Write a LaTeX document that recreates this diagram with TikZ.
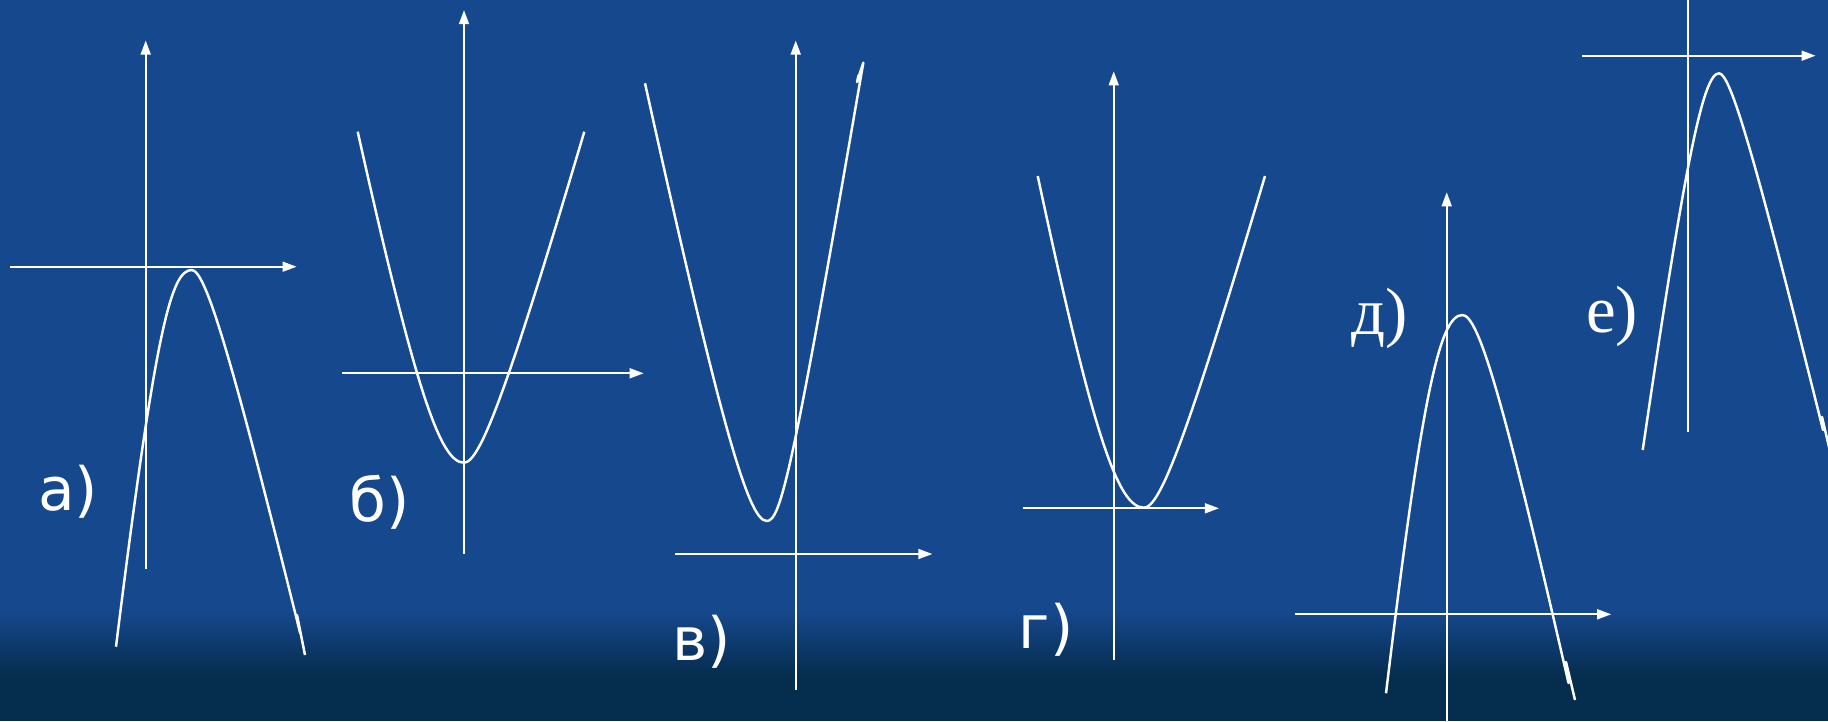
\documentclass[tikz,border=0pt]{standalone}
\usepackage{fontspec}
\newfontfamily\sanslab{DejaVu Sans}
\newfontfamily\seriflab{Liberation Serif}
\usetikzlibrary{arrows.meta,calc}
\definecolor{bgblue}{RGB}{22,72,142}
\definecolor{bgdark}{RGB}{5,45,78}
\begin{document}
\begin{tikzpicture}[x=0.01cm,y=-0.01cm,
  axis/.style={white, line width=0.6pt, -{Triangle[length=4pt,width=2.8pt]}},
  axisplain/.style={white, line width=0.6pt},
  curve/.style={white, line width=0.7pt, line join=round},
  lab/.style={white, font=\sanslab\fontsize{17}{20}\selectfont, inner sep=0pt},
  labs/.style={white, font=\seriflab\fontsize{19}{20}\selectfont, inner sep=0pt}]
\def\tv{0.74}\def\te{0.78}
\useasboundingbox (0,0) rectangle (1828,721);
\clip (0,0) rectangle (1828,721);
\fill[bgblue] (0,0) rectangle (1828,721);
\shade[top color=bgblue, bottom color=bgdark] (0,610) rectangle (1828,676);
\fill[bgdark] (0,675) rectangle (1828,721);

% a)
\draw[axis] (145.7,569) -- (145.7,40.5);
\draw[axis] (9.9,266.7) -- (296.6,266.7);
\coordinate (aV) at (191.7,270);
\coordinate (aQl) at (162.7,270);
\coordinate (aEl) at (116,646.7);
\coordinate (aQr) at (210,270);
\coordinate (aEr) at (300.2,633.3);
\draw[curve] (aEl) .. controls ($(aEl)!0.85!(aQl)$) and ($(aV)!0.7!(aQl)$) .. (aV)
  .. controls ($(aV)!\tv!(aQr)$) and ($(aEr)!\te!(aQr)$) .. (aEr)
  -- (297,615) -- (305,655);
\node[lab] (la) at (68,492) {а)};

% b)
\draw[axis] (464,554) -- (464,10.1);
\draw[axis] (342.4,373.3) -- (643.7,373.3);
\coordinate (bV) at (464,462.7);
\coordinate (bQl) at (431.7,462.7);
\coordinate (bEl) at (357.7,131.7);
\coordinate (bQr) at (485.7,462.7);
\coordinate (bEr) at (584.3,131.7);
\draw[curve] (bEl) .. controls ($(bEl)!\te!(bQl)$) and ($(bV)!\tv!(bQl)$) .. (bV)
  .. controls ($(bV)!\tv!(bQr)$) and ($(bEr)!\te!(bQr)$) .. (bEr);
\node[lab] (lb) at (380,502) {б)};

% v)
\draw[axis] (795.7,689.7) -- (795.7,40.5);
\draw[axis] (675.4,554) -- (932.4,554);
\coordinate (vV) at (766.7,521);
\coordinate (vQl) at (742,521);
\coordinate (vEl) at (645,83.3);
\coordinate (vQr) at (784.2,521);
\coordinate (vEr) at (863.3,62.7);
\draw[curve] (vEl) .. controls ($(vEl)!\te!(vQl)$) and ($(vV)!\tv!(vQl)$) .. (vV)
  .. controls ($(vV)!0.8!(vQr)$) and ($(vEr)!0.9!(vQr)$) .. (vEr)
  -- (857,82) -- (858.6,75);
\node[lab] (lv) at (702,642) {в)};

% g)
\draw[axis] (1113.7,659.8) -- (1113.7,71.3);
\draw[axis] (1022.5,508.3) -- (1219,508.3);
\coordinate (gV) at (1144,507.7);
\coordinate (gQl) at (1108.7,507.7);
\coordinate (gEl) at (1037.7,176);
\coordinate (gQr) at (1166,507.7);
\coordinate (gEr) at (1265,176);
\draw[curve] (gEl) .. controls ($(gEl)!\te!(gQl)$) and ($(gV)!\tv!(gQl)$) .. (gV)
  .. controls ($(gV)!\tv!(gQr)$) and ($(gEr)!\te!(gQr)$) .. (gEr);
\node[lab] (lg) at (1046,630) {г)};

% d)
\draw[axis] (1446.7,725) -- (1446.7,192.2);
\draw[axis] (1295.1,614.3) -- (1611.2,614.3);
\coordinate (dV) at (1462.3,315);
\coordinate (dQl) at (1431.4,315);
\coordinate (dEl) at (1386,693.3);
\coordinate (dQr) at (1484,315);
\coordinate (dEr) at (1568.5,683);
\draw[curve] (dEl) .. controls ($(dEl)!\te!(dQl)$) and ($(dV)!\tv!(dQl)$) .. (dV)
  .. controls ($(dV)!\tv!(dQr)$) and ($(dEr)!\te!(dQr)$) .. (dEr)
  -- (1566,662) -- (1575,700);
\node[labs] (ld) at (1380,318) {д)};

% e)
\draw[axisplain] (1688.3,432.2) -- (1688.3,-5);
\draw[axis] (1582,55.7) -- (1815.6,55.7);
\coordinate (eV) at (1719,73.3);
\coordinate (eQl) at (1698,73.3);
\coordinate (eEl) at (1642.7,450);
\coordinate (eQr) at (1734.2,73.3);
\coordinate (eEr) at (1823,430);
\draw[curve] (eEl) .. controls ($(eEl)!\te!(eQl)$) and ($(eV)!\tv!(eQl)$) .. (eV)
  .. controls ($(eV)!\tv!(eQr)$) and ($(eEr)!\te!(eQr)$) .. (eEr)
  -- (1822,417) -- (1832,460);
\node[labs] (le) at (1612,316) {е)};
\end{tikzpicture}
\end{document}
